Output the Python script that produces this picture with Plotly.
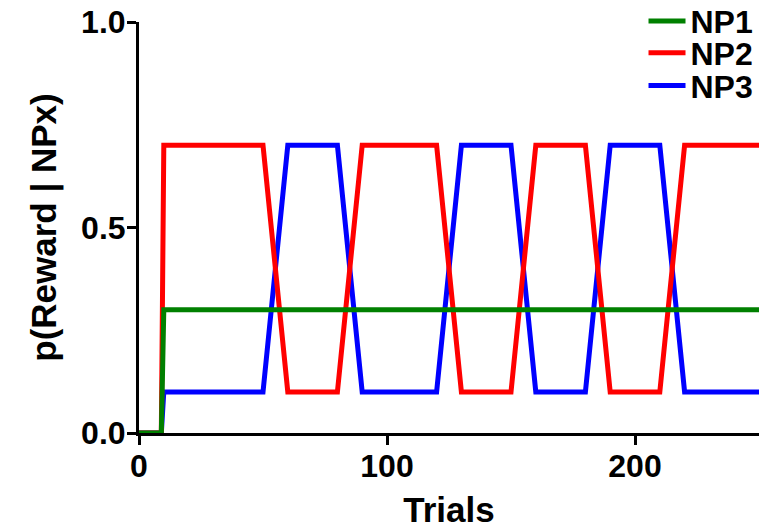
import plotly.graph_objects as go

# Data
trials = [0, 9, 10, 50, 60, 80, 90, 120, 130, 150, 160, 180, 190, 210, 220, 250]
np1 = [0, 0, 0.3, 0.3, 0.3, 0.3, 0.3, 0.3, 0.3, 0.3, 0.3, 0.3, 0.3, 0.3, 0.3, 0.3]
np2 = [0, 0, 0.7, 0.7, 0.1, 0.1, 0.7, 0.7, 0.1, 0.1, 0.7, 0.7, 0.1, 0.1, 0.7, 0.7]
np3 = [0, 0, 0.1, 0.1, 0.7, 0.7, 0.1, 0.1, 0.7, 0.7, 0.1, 0.1, 0.7, 0.7, 0.1, 0.1]

x_ticks = [0, 100, 200]
y_ticks = [0.0, 0.5, 1.0]
y_tick_labels = ["0.0", "0.5", "1.0"]

FONT = "Liberation Sans, Arial, Helvetica, sans-serif"
FS = 32
TFS = 35

fig = go.Figure()
fig.add_trace(go.Scatter(x=trials, y=np3, mode="lines", name="NP3",
                         line=dict(color="#0000FF", width=5), cliponaxis=False,
                         legend="legend3"))
fig.add_trace(go.Scatter(x=trials, y=np2, mode="lines", name="NP2",
                         line=dict(color="#FF0000", width=5), cliponaxis=False,
                         legend="legend2"))
fig.add_trace(go.Scatter(x=trials, y=np1, mode="lines", name="NP1",
                         line=dict(color="#008000", width=5), cliponaxis=False,
                         legend="legend"))

def leg(y):
    return dict(x=0.839, y=y, xref="container", yref="container",
                xanchor="left", yanchor="middle",
                font=dict(family=FONT, size=FS, color="black", weight="bold"),
                bgcolor="rgba(0,0,0,0)", borderwidth=0, itemwidth=37,
                tracegroupgap=0)

fig.update_layout(
    width=767, height=529,
    margin=dict(l=139, r=8, t=22, b=96, autoexpand=False),
    plot_bgcolor="white", paper_bgcolor="white",
    showlegend=True,
    legend=leg(0.960),
    legend2=leg(0.900),
    legend3=leg(0.838),
    xaxis=dict(
        range=[0, 250], tickvals=x_ticks, ticktext=[str(v) for v in x_ticks],
        showline=True, linecolor="black", linewidth=3,
        ticks="outside", ticklen=9, tickwidth=3, tickcolor="black",
        ticklabelstandoff=-6,
        showgrid=False, zeroline=False, layer="below traces",
        tickfont=dict(family=FONT, size=FS, color="black", weight="bold"),
        title=dict(text="Trials", standoff=20,
                   font=dict(family=FONT, size=TFS, color="black", weight="bold")),
    ),
    yaxis=dict(
        range=[0, 1], tickvals=y_ticks, ticktext=y_tick_labels,
        showline=True, linecolor="black", linewidth=3,
        ticks="outside", ticklen=9, tickwidth=3, tickcolor="black",
        ticklabelstandoff=-5,
        showgrid=False, zeroline=False, layer="below traces",
        tickfont=dict(family=FONT, size=FS, color="black", weight="bold"),
        title=dict(text="p(Reward | NPx)", standoff=14,
                   font=dict(family=FONT, size=TFS, color="black", weight="bold")),
    ),
)

fig.write_html("out.html")
